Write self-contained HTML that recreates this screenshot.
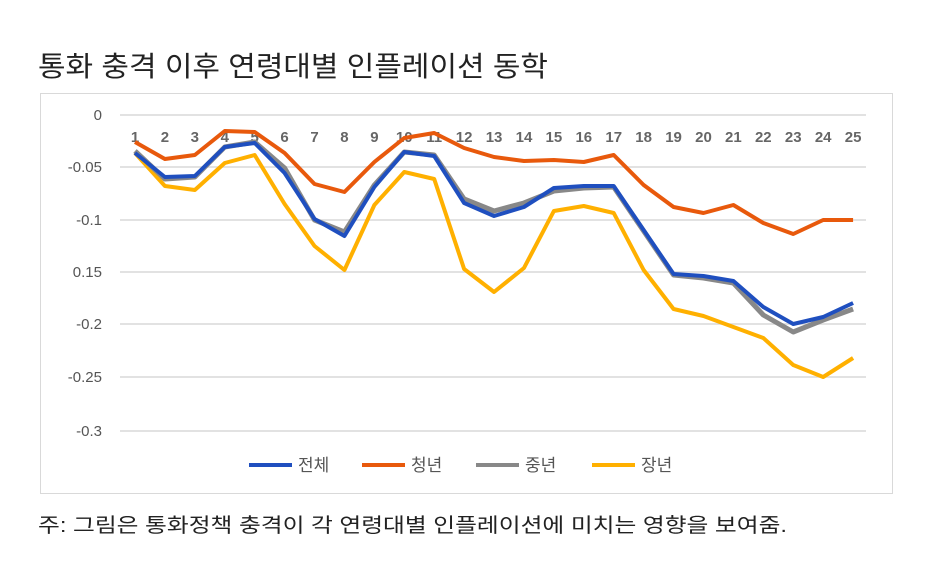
<!DOCTYPE html>
<html><head><meta charset="utf-8"><style>
body{margin:0;background:#fff;width:931px;height:571px;overflow:hidden;font-family:"Liberation Sans","Noto Sans CJK KR",sans-serif}
</style></head><body>
<svg width="931" height="571" xmlns="http://www.w3.org/2000/svg" style="position:absolute;left:0;top:0">
<text x="38" y="76" font-size="28" fill="#222" textLength="510" lengthAdjust="spacingAndGlyphs" font-family="Liberation Sans,Noto Sans CJK KR,sans-serif">통화 충격 이후 연령대별 인플레이션 동학</text>
<rect x="40.5" y="93.5" width="852" height="400" fill="#fff" stroke="#d9d9d9"/>
<g stroke="#d9d9d9" stroke-width="1.5">
<line x1="120" x2="866" y1="115" y2="115"/><line x1="120" x2="866" y1="167" y2="167"/><line x1="120" x2="866" y1="220" y2="220"/><line x1="120" x2="866" y1="272" y2="272"/><line x1="120" x2="866" y1="324" y2="324"/><line x1="120" x2="866" y1="377" y2="377"/><line x1="120" x2="866" y1="431" y2="431"/>
</g>
<g font-size="15" fill="#555" text-anchor="end" font-family="Liberation Sans,sans-serif">
<text x="102" y="120">0</text><text x="102" y="172">-0.05</text><text x="102" y="225">-0.1</text><text x="102" y="277">0.15</text><text x="102" y="329">-0.2</text><text x="102" y="382">-0.25</text><text x="102" y="436">-0.3</text>
</g>
<g font-size="15" font-weight="bold" fill="#666" text-anchor="middle" font-family="Liberation Sans,sans-serif" id="xl"></g>
<g fill="none" stroke-width="4" stroke-linejoin="round" id="ln"></g>
<g font-size="17" fill="#555" font-family="Liberation Sans,Noto Sans CJK KR,sans-serif">
<line x1="249" x2="292" y1="465" y2="465" stroke="#1f4fbf" stroke-width="4"/><text x="298" y="471">전체</text>
<line x1="362" x2="405" y1="465" y2="465" stroke="#e8590c" stroke-width="4"/><text x="411" y="471">청년</text>
<line x1="476" x2="519" y1="465" y2="465" stroke="#888" stroke-width="4"/><text x="525" y="471">중년</text>
<line x1="592" x2="635" y1="465" y2="465" stroke="#ffb000" stroke-width="4"/><text x="641" y="471">장년</text>
</g>
<text x="38" y="532" font-size="20" fill="#222" textLength="749" lengthAdjust="spacingAndGlyphs" font-family="Liberation Sans,Noto Sans CJK KR,sans-serif">주: 그림은 통화정책 충격이 각 연령대별 인플레이션에 미치는 영향을 보여줌.</text>
</svg>
<script>
var d={"#e8590c":[142,159,155,131,132,153,184,192,162,138,133,148,157,161,160,162,155,185,207,213,205,223,234,220,220],
"#ffb000":[153,186,190,163,155,204,246,270,205,172,179,269,292,268,211,206,213,270,309,316,327,338,365,377,358],
"#888":[151,179,177,147,142,168,220,232,185,152,155,199,211,203,191,188,187,231,275,278,283,315,332,320,309],
"#1f4fbf":[153,177,176,147,143,173,219,236,187,152,156,203,216,207,188,186,186,230,274,276,281,307,324,317,303]};
var ns="http://www.w3.org/2000/svg",ln=document.getElementById("ln"),xl=document.getElementById("xl");
for(var i=0;i<25;i++){var t=document.createElementNS(ns,"text");t.setAttribute("x",135+i*29.92);t.setAttribute("y",142);t.textContent=i+1;xl.appendChild(t);}
["#e8590c","#ffb000","#888","#1f4fbf"].forEach(function(c){var p=document.createElementNS(ns,"polyline");p.setAttribute("points",d[c].map(function(y,i){return (135+i*29.92)+","+y}).join(" "));p.setAttribute("stroke",c);if(c=="#888")p.setAttribute("stroke-width","5");ln.appendChild(p);});
</script>
</body></html>
